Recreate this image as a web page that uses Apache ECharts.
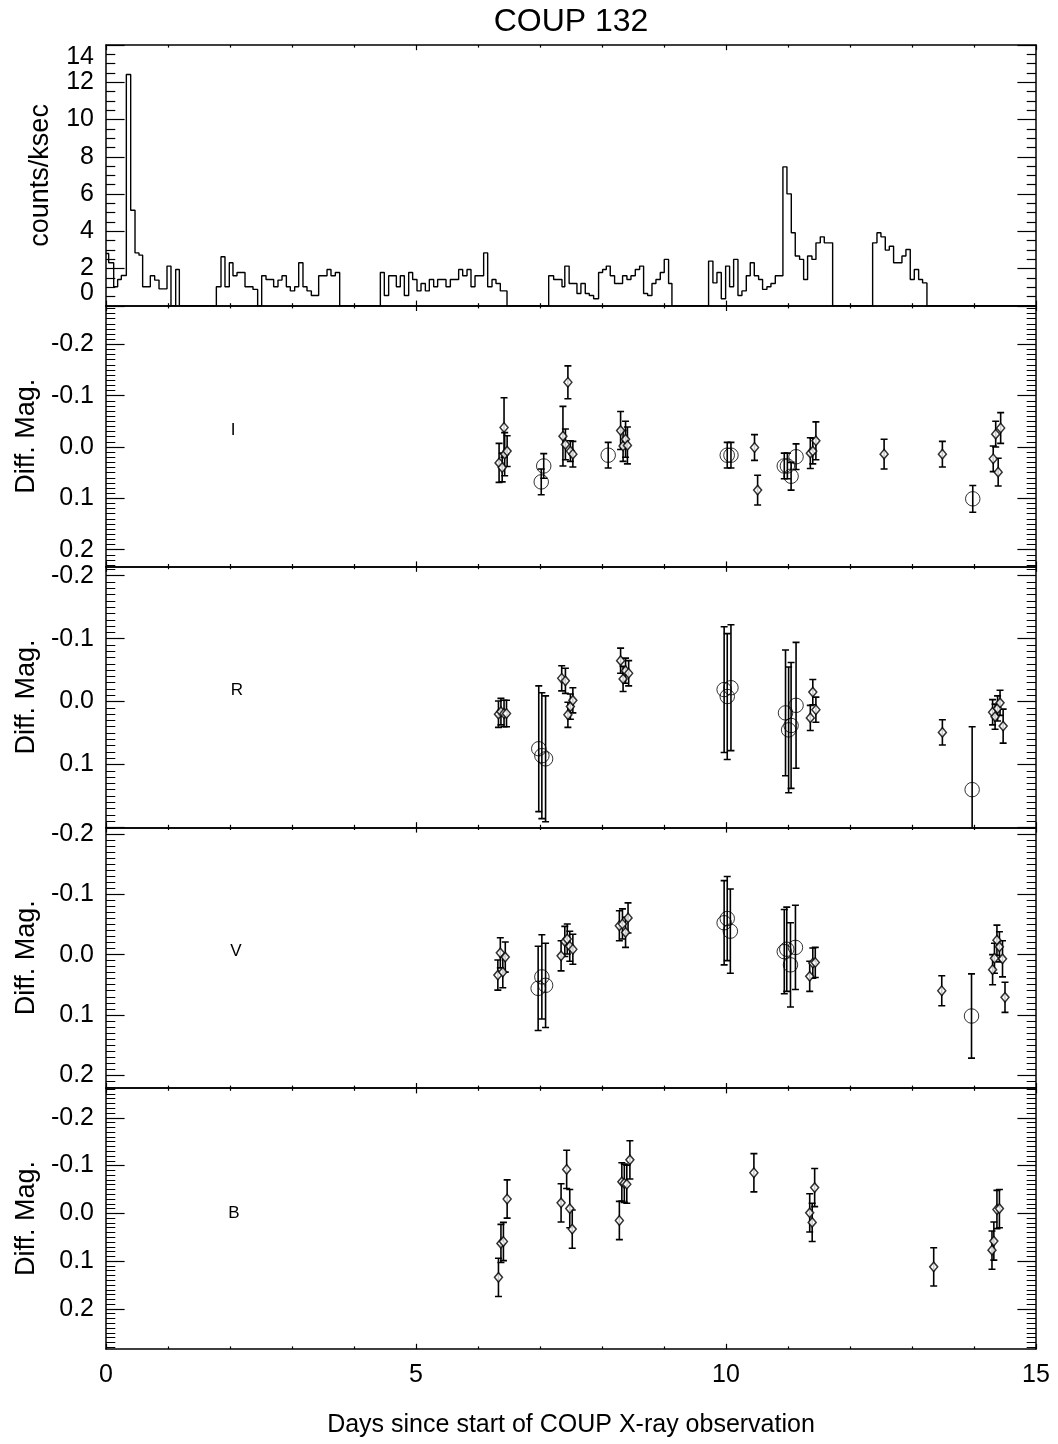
<!DOCTYPE html>
<html><head><meta charset="utf-8">
<script src="https://cdn.jsdelivr.net/npm/echarts@6/dist/echarts.min.js"></script>
<style>html,body{margin:0;padding:0;background:#fff}#c{width:1058px;height:1444px}</style>
</head><body><div id="c"></div>
<script>
// ---------------- DATA ----------------
// X-ray light curve: left edges of bins (days) and count rates (counts/ksec); 0 = gap
const histEdges = [0,0.043,0.124,0.188,0.247,0.328,0.398,0.468,0.532,0.591,0.715,0.785,0.855,0.984,1.048,1.124,1.183,
 1.780,1.855,1.919,1.989,2.048,2.113,2.242,2.371,2.446,2.511,2.581,2.704,2.774,2.839,2.909,2.973,3.043,3.108,3.177,3.242,3.312,3.430,3.565,3.629,3.699,3.769,
 4.425,4.489,4.559,4.683,4.747,4.812,4.882,4.946,5.016,5.081,5.151,5.215,5.285,5.349,5.484,5.554,5.688,5.753,5.823,5.887,5.952,6.091,6.156,6.226,6.290,6.360,6.468,
 7.140,7.220,7.355,7.400,7.470,7.596,7.660,7.730,7.795,7.865,7.945,8.010,8.069,8.133,8.203,8.332,8.402,8.467,8.537,8.607,8.671,8.736,8.806,8.870,8.940,9.004,9.074,9.128,
 9.719,9.789,9.854,9.924,9.994,10.058,10.123,10.193,10.257,10.327,10.391,10.456,10.526,10.590,10.660,10.725,10.795,10.918,10.983,11.053,11.117,11.187,11.252,11.316,11.386,11.451,11.521,11.585,11.720,
 12.365,12.435,12.499,12.569,12.634,12.703,12.838,12.902,12.972,13.037,13.107,13.171];
const histRates = [2.81,2.31,1.02,1.41,1.63,12.42,5.13,2.84,2.72,1.02,1.61,1.38,0.91,2.13,0,1.95,0,
 1.02,2.63,1.02,2.31,1.61,1.79,1.02,0.88,0,1.61,1.41,1.02,1.38,1.61,1.02,0.8,1.02,2.31,1.02,0.8,0.55,1.61,1.95,1.61,1.79,0,
 1.79,0.55,1.61,1.02,1.61,0.55,1.79,1.41,0.8,1.2,0.8,1.41,1.02,1.41,1.02,1.41,1.95,1.61,1.95,1.02,1.61,2.84,1.02,1.41,1.2,0.8,0,
 1.61,1.41,1.02,2.13,1.2,0.66,1.2,0.66,0.55,0.38,1.79,1.95,2.13,1.61,1.2,1.61,1.41,1.61,1.95,2.13,0.66,0.55,1.2,1.41,1.79,2.49,1.2,0,
 2.40,1.23,1.79,0.38,2.13,1.02,2.49,0.55,0.8,1.61,2.31,1.61,1.41,0.88,1.02,1.2,1.61,7.46,6.01,3.92,2.67,2.49,1.41,2.67,2.49,3.38,3.70,3.38,0,
 3.38,3.92,3.70,2.99,3.2,2.31,2.67,3.02,1.41,1.95,1.41,1.23];
const histEnd = 13.241;

// Optical photometry: day, differential magnitude, error, kind (d = diamond, c = circle)
const iDays  = [6.34,6.39,6.43,6.42,6.47,7.02,7.06,7.37,7.41,7.45,7.49,7.53,8.10,8.30,8.34,8.38,8.41,10.02,10.08,10.46,10.51,10.94,10.99,11.05,11.13,11.36,11.40,11.45,12.55,13.49,13.98,14.31,14.35,14.39,14.43];
const iMags  = [0.031,0.040,0.014,-0.038,0.008,0.068,0.037,-0.021,-0.005,-0.126,0.008,0.014,0.016,-0.032,-0.002,-0.015,-0.003,0.016,0.016,0.001,0.084,0.037,0.037,0.057,0.019,0.012,0.008,-0.012,0.014,0.014,0.101,0.023,-0.025,0.049,-0.037];
const iErrs  = [0.038,0.028,0.042,0.058,0.03,0.025,0.024,0.058,0.03,0.032,0.02,0.025,0.025,0.037,0.03,0.035,0.036,0.025,0.025,0.025,0.029,0.025,0.025,0.027,0.025,0.03,0.025,0.037,0.029,0.025,0.026,0.025,0.025,0.027,0.03];
const iKinds = ['d','d','d','d','d','c','c','d','d','d','d','d','c','d','d','d','d','c','c','d','d','c','c','c','c','d','d','d','d','d','c','d','d','d','d'];

const rDays  = [6.33,6.37,6.42,6.46,6.98,7.03,7.09,7.35,7.41,7.45,7.49,7.53,8.30,8.34,8.38,8.43,9.97,10.02,10.08,10.96,11.01,11.05,11.13,11.36,11.40,11.45,13.49,13.97,14.30,14.34,14.38,14.42,14.47];
const rMags  = [0.020,0.016,0.019,0.019,0.075,0.086,0.091,-0.037,-0.033,0.021,0.008,-0.002,-0.065,-0.036,-0.049,-0.045,-0.019,-0.008,-0.022,0.018,0.045,0.038,0.006,0.026,-0.015,0.013,0.049,0.14,0.017,0.024,0.011,0.002,0.039];
const rErrs  = [0.021,0.021,0.021,0.021,0.1,0.1,0.1,0.02,0.02,0.02,0.02,0.02,0.02,0.02,0.02,0.02,0.1,0.1,0.1,0.1,0.1,0.1,0.1,0.02,0.02,0.02,0.02,0.1,0.02,0.02,0.02,0.02,0.027];
const rKinds = ['d','d','d','d','c','c','c','d','d','d','d','d','d','d','d','d','c','c','c','c','c','c','c','d','d','d','d','c','d','d','d','d','d'];

const vDays  = [6.32,6.36,6.40,6.44,6.97,7.03,7.09,7.34,7.40,7.44,7.48,7.53,8.28,8.33,8.38,8.42,9.97,10.02,10.07,10.94,10.98,11.04,11.12,11.35,11.40,11.44,13.48,13.96,14.30,14.33,14.37,14.41,14.46,14.50];
const vMags  = [0.034,-0.003,0.029,0.004,0.056,0.037,0.051,0.002,-0.022,-0.026,-0.014,-0.009,-0.048,-0.051,-0.037,-0.061,-0.053,-0.06,-0.039,-0.005,-0.009,0.017,-0.012,0.036,0.014,0.013,0.06,0.102,0.025,0.006,-0.024,-0.013,0.007,0.071];
const vErrs  = [0.025,0.025,0.026,0.025,0.07,0.07,0.07,0.025,0.025,0.025,0.025,0.025,0.025,0.025,0.025,0.025,0.07,0.07,0.07,0.07,0.07,0.07,0.07,0.025,0.025,0.025,0.025,0.07,0.025,0.025,0.025,0.025,0.03,0.025];
const vKinds = ['d','d','d','d','c','c','c','d','d','d','d','d','d','d','d','d','c','c','c','c','c','c','c','d','d','d','d','c','d','d','d','d','d','d'];

const bDays  = [6.33,6.37,6.41,6.47,7.34,7.43,7.48,7.52,8.28,8.32,8.36,8.40,8.45,10.45,11.35,11.39,11.43,13.35,14.29,14.32,14.37,14.41];
const bMags  = [0.134,0.063,0.059,-0.03,-0.022,-0.092,-0.01,0.033,0.015,-0.066,-0.063,-0.061,-0.112,-0.085,-0.001,0.019,-0.054,0.112,0.077,0.058,-0.008,-0.01];
const bErrs  = [0.04,0.04,0.04,0.04,0.04,0.04,0.04,0.04,0.04,0.04,0.04,0.04,0.04,0.04,0.04,0.04,0.04,0.04,0.04,0.04,0.04,0.04];
const bKinds = ['d','d','d','d','d','d','d','d','d','d','d','d','d','d','d','d','d','d','d','d','d','d'];

const bandNames = ['I','R','V','B'];
// y ranges (inverted magnitude axes) of each band panel
const magRanges = [[-0.275,0.233],[-0.2145,0.2],[-0.2115,0.222],[-0.262,0.284]];
const magTickValues = [-0.2,-0.1,0,0.1,0.2];
const magTickLabels = ['-0.2','-0.1','0.0','0.1','0.2'];
// labelled ticks per band panel (R panel's bottom 0.2 is unlabelled)
const magLabelValues = [[-0.2,-0.1,0,0.1,0.2],[-0.2,-0.1,0,0.1],[-0.2,-0.1,0,0.1,0.2],[-0.2,-0.1,0,0.1,0.2]];
const rateInnerLabels = [2,4,6,8,10,12];
const rateEndLabels = [0,14];
const dayTickValues = [0,5,10,15];

// ---------------- CHART ----------------
const FONT = '"Liberation Sans", Arial, Helvetica, sans-serif';
const chart = echarts.init(document.getElementById('c'), null, {renderer:'canvas'});
const L = 106, W = 930, H = 260.8;
const tops = [45, 305.8, 566.6, 827.4, 1088.2];
const black = '#000';
const grids = tops.map(t => ({left:L, width:W, top:t, height:H, containLabel:false}));
const labelStyle = {color:black, fontSize:25, fontFamily:FONT, margin:12};

const xAxes = [];
for (let g = 0; g < 5; g++) {
  const common = {type:'value', gridIndex:g, min:0, max:15, interval:5,
    splitLine:{show:false},
    axisLine:{show:true, onZero:false, lineStyle:{color:black, width:1.5}},
    axisTick:{show:true, inside:true, length:5.2, lineStyle:{color:black, width:1.2}},
    minorTick:{show:true, splitNumber:5, length:2.6, lineStyle:{color:black, width:1.2}}};
  xAxes.push(Object.assign({}, common, {position:'bottom',
    axisLabel:{show:g===4, showMinLabel:true, showMaxLabel:true, color:black, fontSize:25, fontFamily:FONT, margin:14,
      formatter: v => dayTickValues.indexOf(v) >= 0 ? String(v) : ''},
    name: g===4 ? 'Days since start of COUP X-ray observation' : '',
    nameLocation:'middle', nameGap:64,
    nameTextStyle:{color:black, fontSize:25, fontFamily:FONT}}));
  xAxes.push(Object.assign({}, common, {position:'top', axisLabel:{show:false}}));
}

const yAxes = [];
// top panel (count rate): axis 0 = frame/ticks/inner labels, 1 = right frame, 2 = end labels 0 and 14
const rateCommon = {type:'value', gridIndex:0, min:0, max:14, interval:2, splitLine:{show:false},
  axisLine:{show:true, onZero:false, lineStyle:{color:black, width:1.5}},
  axisTick:{show:true, inside:true, length:18.6, lineStyle:{color:black, width:1.2}},
  minorTick:{show:true, splitNumber:4, length:9.3, lineStyle:{color:black, width:1.2}}};
yAxes.push(Object.assign({}, rateCommon, {position:'left',
  axisLabel:Object.assign({show:true, customValues:rateInnerLabels, hideOverlap:false, formatter: v => String(v)}, labelStyle),
  name:'counts/ksec', nameLocation:'middle', nameGap:52,
  nameTextStyle:{color:black, fontSize:27, fontFamily:FONT}}));
yAxes.push(Object.assign({}, rateCommon, {position:'right', axisLabel:{show:false}}));
yAxes.push({type:'value', gridIndex:0, min:0, max:14, interval:14, position:'left', splitLine:{show:false},
  axisLine:{show:false, onZero:false}, axisTick:{show:false}, minorTick:{show:false},
  axisLabel:Object.assign({show:true, showMinLabel:true, showMaxLabel:true, hideOverlap:false,
    verticalAlignMinLabel:'bottom', verticalAlignMaxLabel:'top',
    formatter: v => rateEndLabels.indexOf(v) >= 0 ? String(v) : ''}, labelStyle)});
const MAG0 = yAxes.length;

function minorValues(mn, mx) {
  const out = [];
  for (let k = Math.ceil(mn * 100 - 1e-6); k <= Math.floor(mx * 100 + 1e-6); k++) out.push(k / 100);
  return out;
}
for (let k = 0; k < 4; k++) {
  const g = k + 1, [mn, mx] = magRanges[k];
  const base = {type:'value', gridIndex:g, min:mn, max:mx, inverse:true, splitLine:{show:false}};
  const minors = minorValues(mn, mx);
  const majorTick = {show:true, inside:true, length:18.6, customValues:magTickValues, lineStyle:{color:black, width:1.2}};
  const minorTick = {show:true, inside:true, length:9.3, customValues:minors, lineStyle:{color:black, width:1}};
  yAxes.push(Object.assign({}, base, {position:'left',
    axisLine:{show:true, onZero:false, lineStyle:{color:black, width:1.5}},
    axisTick:majorTick,
    axisLabel:Object.assign({show:true, customValues:magLabelValues[k], showMinLabel:true, showMaxLabel:true, hideOverlap:false,
      formatter: v => { const i = magTickValues.findIndex(t => Math.abs(t - v) < 1e-6); return i >= 0 ? magTickLabels[i] : ''; }}, labelStyle),
    name:'Diff. Mag.', nameLocation:'middle', nameGap:66,
    nameTextStyle:{color:black, fontSize:27, fontFamily:FONT}}));
  yAxes.push(Object.assign({}, base, {position:'left', axisLine:{show:false, onZero:false}, axisTick:minorTick, axisLabel:{show:false}}));
  yAxes.push(Object.assign({}, base, {position:'right', axisLine:{show:true, onZero:false, lineStyle:{color:black, width:1.5}}, axisTick:majorTick, axisLabel:{show:false}}));
  yAxes.push(Object.assign({}, base, {position:'right', axisLine:{show:false, onZero:false}, axisTick:minorTick, axisLabel:{show:false}}));
}

// histogram as a step line
const histData = histEdges.map((e, i) => [e, histRates[i]]);
histData.push([histEnd, 0]);
histData.push([15, 0]);

const series = [{
  type:'line', xAxisIndex:0, yAxisIndex:0, step:'end', data:histData, symbol:'none',
  lineStyle:{color:black, width:1.4}, silent:true, animation:false
}];

function errRender(params, api) {
  const x = api.value(0);
  const p1 = api.coord([x, api.value(1)]);
  const p2 = api.coord([x, api.value(2)]);
  const w = 3.5, st = {stroke:black, lineWidth:1.6};
  return {type:'group', children:[
    {type:'line', shape:{x1:p1[0], y1:p1[1], x2:p2[0], y2:p2[1]}, style:st},
    {type:'line', shape:{x1:p1[0]-w, y1:p1[1], x2:p1[0]+w, y2:p1[1]}, style:st},
    {type:'line', shape:{x1:p2[0]-w, y1:p2[1], x2:p2[0]+w, y2:p2[1]}, style:st}
  ]};
}

const bands = [[iDays,iMags,iErrs,iKinds],[rDays,rMags,rErrs,rKinds],[vDays,vMags,vErrs,vKinds],[bDays,bMags,bErrs,bKinds]];
bands.forEach((b, k) => {
  const [days, mags, errs, kinds] = b;
  const g = k + 1, xi = 2 * g, yi = MAG0 + 4 * k;
  series.push({type:'custom', xAxisIndex:xi, yAxisIndex:yi, clip:true, silent:true, animation:false,
    renderItem: errRender, data: days.map((d, i) => [d, mags[i] - errs[i], mags[i] + errs[i]])});
  series.push({type:'scatter', xAxisIndex:xi, yAxisIndex:yi, symbol:'circle', symbolSize:14.5, silent:true, animation:false,
    itemStyle:{color:'rgba(0,0,0,0)', borderColor:black, borderWidth:1},
    data: days.map((d, i) => [d, mags[i]]).filter((p, i) => kinds[i] === 'c')});
  series.push({type:'scatter', xAxisIndex:xi, yAxisIndex:yi, symbol:'diamond', symbolSize:[8,9.5], silent:true, animation:false, z:3,
    itemStyle:{color:'#fff', borderColor:black, borderWidth:1.5},
    data: days.map((d, i) => [d, mags[i]]).filter((p, i) => kinds[i] === 'd')});
});

const bandLabelPos = [[233,430],[237,690],[236,951],[234,1213]];
const graphics = [{type:'text', x:571, y:22, style:{text:'COUP 132', fill:black, font:'32px ' + FONT, textAlign:'center', textVerticalAlign:'middle'}}];
bandNames.forEach((n, k) => graphics.push({type:'text', x:bandLabelPos[k][0], y:bandLabelPos[k][1],
  style:{text:n, fill:black, font:'17px ' + FONT, textAlign:'center', textVerticalAlign:'middle'}}));

chart.setOption({
  backgroundColor:'#fff', animation:false,
  grid:grids, xAxis:xAxes, yAxis:yAxes, series, graphic:graphics
});
</script></body></html>
